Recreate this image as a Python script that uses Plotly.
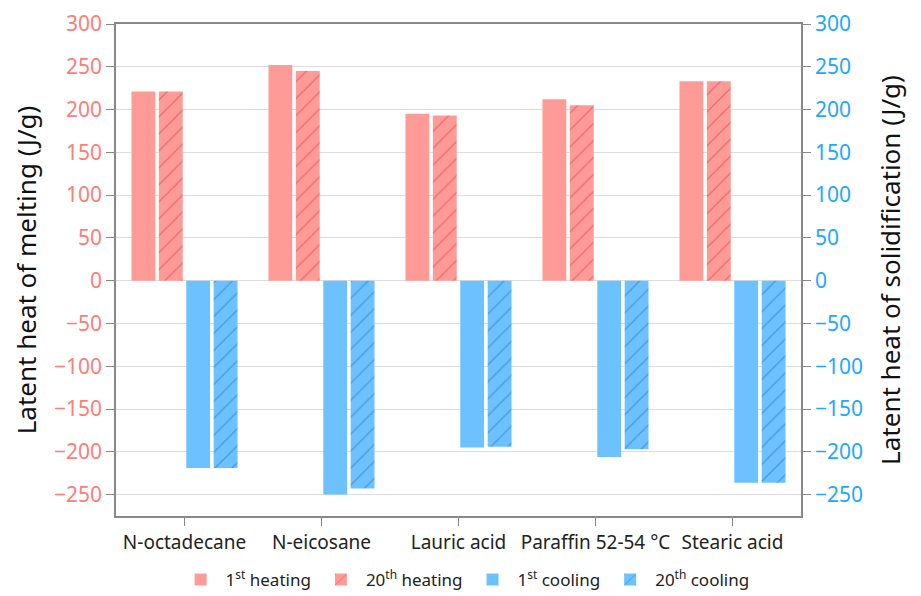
import plotly.graph_objects as go

categories = ["N-octadecane", "N-eicosane", "Lauric acid", "Paraffin 52-54 °C", "Stearic acid"]
heating_1st = [221, 252, 195, 212, 233]
heating_20th = [221, 245, 193, 205, 233]
cooling_1st = [-219, -250, -195, -206, -236]
cooling_20th = [-219, -243, -194, -197, -236]
y_ticks = list(range(-250, 301, 50))
y_tick_text = [("\u2212" + str(-v)) if v < 0 else str(v) for v in y_ticks]

RED = "#FF9B97"
RED_D = "#D9262E"
BLUE = "#6EC1FF"
BLUE_D = "#0A66B8"
FONT = "Noto Sans"

fig = go.Figure()
fig.add_bar(x=categories, y=heating_1st, name="1<sup>st</sup> heating",
            marker=dict(color=RED, line=dict(width=0)))
fig.add_bar(x=categories, y=heating_20th, name="20<sup>th</sup> heating",
            marker=dict(color=RED, line=dict(width=0),
                        pattern=dict(shape="/", fgcolor=RED_D, bgcolor=RED, size=12, solidity=0.1)))
fig.add_bar(x=categories, y=cooling_1st, name="1<sup>st</sup> cooling",
            marker=dict(color=BLUE, line=dict(width=0)))
fig.add_bar(x=categories, y=cooling_20th, name="20<sup>th</sup> cooling",
            marker=dict(color=BLUE, line=dict(width=0),
                        pattern=dict(shape="/", fgcolor=BLUE_D, bgcolor=BLUE, size=12, solidity=0.1)))
# invisible trace to anchor right axis
fig.add_scatter(x=categories, y=cooling_1st, yaxis="y2", mode="markers",
                marker=dict(opacity=0), showlegend=False, hoverinfo="skip")

yrange = [-275, 300]
fig.update_layout(
    width=921, height=596,
    margin=dict(l=116, r=120, t=24, b=80, autoexpand=False),
    paper_bgcolor="white", plot_bgcolor="white",
    font=dict(family=FONT, color="#222"),
    barmode="group", bargap=0.2, bargroupgap=0.13,
    showlegend=True,
    legend=dict(orientation="h", x=0.505, xanchor="center", xref="container",
                y=16 / 596, yanchor="middle", yref="container",
                font=dict(size=17, color="#222"), itemwidth=40, traceorder="normal"),
    xaxis=dict(showline=True, linecolor="#888", linewidth=1.5, mirror=True,
               ticks="outside", ticklen=8, tickcolor="#888",
               tickfont=dict(size=19, color="#222"), showgrid=False),
    yaxis=dict(range=yrange, tickvals=y_ticks, ticktext=y_tick_text,
               showline=True, linecolor="#888", linewidth=1.5,
               ticks="outside", ticklen=8, tickcolor="#888",
               tickfont=dict(size=21, color="#FF7C78"),
               gridcolor="#DDDDDD", gridwidth=1, zeroline=False,
               title=dict(text="Latent heat of melting (J/g)", font=dict(size=26, color="#111"), standoff=10)),
    yaxis2=dict(range=yrange, tickvals=y_ticks, ticktext=y_tick_text,
                overlaying="y", side="right",
                showline=True, linecolor="#888", linewidth=1.5,
                ticks="outside", ticklen=8, tickcolor="#888",
                tickfont=dict(size=21, color="#1DA8FF"),
                showgrid=False, zeroline=False,
                title=dict(text="Latent heat of solidification (J/g)", font=dict(size=26, color="#111"), standoff=20)),
)

fig.write_html("out.html")
